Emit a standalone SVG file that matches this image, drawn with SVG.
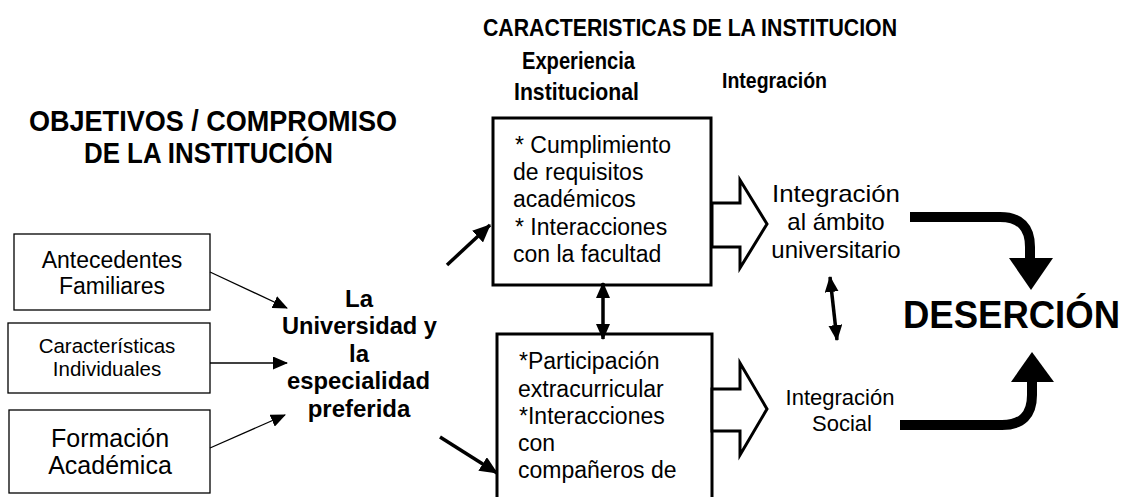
<svg xmlns="http://www.w3.org/2000/svg" width="1127" height="497" viewBox="0 0 1127 497">
<style>
.t{font-family:"Liberation Sans",Arial,sans-serif;fill:#000}
.b{font-weight:bold}
.box{fill:#fff;stroke:#000}
.thin{stroke:#000;stroke-width:1.3;fill:none}
.thick{stroke:#000;stroke-width:3.5;fill:none}
.blk{fill:#fff;stroke:#000;stroke-width:3;stroke-linejoin:miter}
.curve{stroke:#000;stroke-width:10;fill:none}
</style>
<defs>
<marker id="ah" markerUnits="userSpaceOnUse" markerWidth="15" markerHeight="13" refX="14" refY="6.5" orient="auto"><path d="M0,0 L15,6.5 L0,13 Z" fill="#000"/></marker>
<marker id="ahB" markerUnits="userSpaceOnUse" markerWidth="18" markerHeight="16" refX="17" refY="8" orient="auto"><path d="M0,0 L18,8 L0,16 Z" fill="#000"/></marker>
<marker id="ahS" markerUnits="userSpaceOnUse" markerWidth="16" markerHeight="14" refX="15" refY="7" orient="auto-start-reverse"><path d="M0,0 L16,7 L0,14 Z" fill="#000"/></marker>
</defs>

<g id="headings">
<text class="t b" x="483" y="36" font-size="24" textLength="414" lengthAdjust="spacingAndGlyphs">CARACTERISTICAS DE LA INSTITUCION</text>
<text class="t b" x="522" y="69" font-size="24" textLength="113" lengthAdjust="spacingAndGlyphs">Experiencia</text>
<text class="t b" x="514" y="100" font-size="24" textLength="125" lengthAdjust="spacingAndGlyphs">Institucional</text>
<text class="t b" x="722" y="88" font-size="22" textLength="105" lengthAdjust="spacingAndGlyphs">Integración</text>
<text class="t b" x="29" y="131" font-size="30" textLength="368" lengthAdjust="spacingAndGlyphs">OBJETIVOS / COMPROMISO</text>
<text class="t b" x="84" y="163" font-size="30" textLength="249" lengthAdjust="spacingAndGlyphs">DE LA INSTITUCIÓN</text>
</g>

<g id="antecedentes">
<rect class="box" x="14" y="234" width="196" height="76" stroke-width="1.3"/>
<text class="t" x="112" y="268" font-size="23" text-anchor="middle">Antecedentes</text>
<text class="t" x="112" y="294" font-size="23" text-anchor="middle">Familiares</text>
</g>
<g id="caracteristicas">
<rect class="box" x="8" y="323" width="202" height="70" stroke-width="1.3"/>
<text class="t" x="107" y="353" font-size="20.5" text-anchor="middle">Características</text>
<text class="t" x="107" y="376" font-size="20.5" text-anchor="middle">Individuales</text>
</g>
<g id="formacion">
<rect class="box" x="9" y="410" width="201" height="83" stroke-width="1.3"/>
<text class="t" x="110" y="447" font-size="25" text-anchor="middle">Formación</text>
<text class="t" x="110" y="474" font-size="25" text-anchor="middle">Académica</text>
</g>

<g id="universidad">
<text class="t b" x="359" y="307" font-size="24" text-anchor="middle">La</text>
<text class="t b" x="282" y="334" font-size="24" textLength="155" lengthAdjust="spacingAndGlyphs">Universidad y</text>
<text class="t b" x="359" y="362" font-size="24" text-anchor="middle">la</text>
<text class="t b" x="287" y="389" font-size="24" textLength="143" lengthAdjust="spacingAndGlyphs">especialidad</text>
<text class="t b" x="359" y="417" font-size="24" text-anchor="middle">preferida</text>
</g>

<g id="experiencia">
<rect class="box" x="493" y="118" width="218" height="167" stroke-width="3"/>
<text class="t" x="515" y="153" font-size="23">* Cumplimiento</text>
<text class="t" x="513" y="180" font-size="23">de requisitos</text>
<text class="t" x="513" y="207" font-size="23">académicos</text>
<text class="t" x="515" y="235" font-size="23">* Interacciones</text>
<text class="t" x="513" y="262" font-size="23">con la facultad</text>
</g>

<g id="participacion">
<rect class="box" x="497" y="334" width="215" height="180" stroke-width="3"/>
<text class="t" x="519" y="369" font-size="23">*Participación</text>
<text class="t" x="518" y="397" font-size="23">extracurricular</text>
<text class="t" x="519" y="424" font-size="23">*Interacciones</text>
<text class="t" x="518" y="451" font-size="23">con</text>
<text class="t" x="518" y="478" font-size="23">compañeros de</text>
</g>

<g id="integracion-universitaria">
<text class="t" x="772" y="202" font-size="24" textLength="128" lengthAdjust="spacingAndGlyphs">Integración</text>
<text class="t" x="836" y="230" font-size="24" text-anchor="middle">al ámbito</text>
<text class="t" x="836" y="258" font-size="24" text-anchor="middle">universitario</text>
</g>

<g id="integracion-social">
<text class="t" x="840" y="405" font-size="22" text-anchor="middle">Integración</text>
<text class="t" x="842" y="431" font-size="22" text-anchor="middle">Social</text>
</g>

<g id="desercion">
<text class="t b" x="903" y="328" font-size="38" textLength="217" lengthAdjust="spacingAndGlyphs">DESERCIÓN</text>
</g>

<g id="connectors">
<line class="thin" x1="210" y1="272" x2="287" y2="308" marker-end="url(#ah)"/>
<line class="thin" x1="210" y1="363" x2="287" y2="363" marker-end="url(#ah)"/>
<line class="thin" x1="210" y1="448" x2="285" y2="415" marker-end="url(#ah)"/>
<line class="thick" x1="447" y1="265" x2="490" y2="225" marker-end="url(#ahB)"/>
<line class="thick" x1="440" y1="437" x2="497" y2="473" marker-end="url(#ahB)"/>
<line class="thick" x1="603" y1="283" x2="603" y2="339" marker-start="url(#ahS)" marker-end="url(#ahS)"/>
<line class="thick" x1="830" y1="277" x2="837" y2="340" marker-start="url(#ahS)" marker-end="url(#ahS)"/>
<polygon class="blk" points="712,203 740,203 740,180 767,224 740,268 740,247 712,247"/>
<polygon class="blk" points="712,389 740,389 740,363 767,409 740,455 740,431 712,431"/>
<path class="curve" d="M910,217 H1000 Q1030,217 1030,247 V260"/>
<polygon points="1009,258 1053,258 1031,290" fill="#000"/>
<path class="curve" d="M900,425 H1002 Q1032,425 1032,395 V380"/>
<polygon points="1011,382 1054,382 1032,352" fill="#000"/>
</g>
</svg>
